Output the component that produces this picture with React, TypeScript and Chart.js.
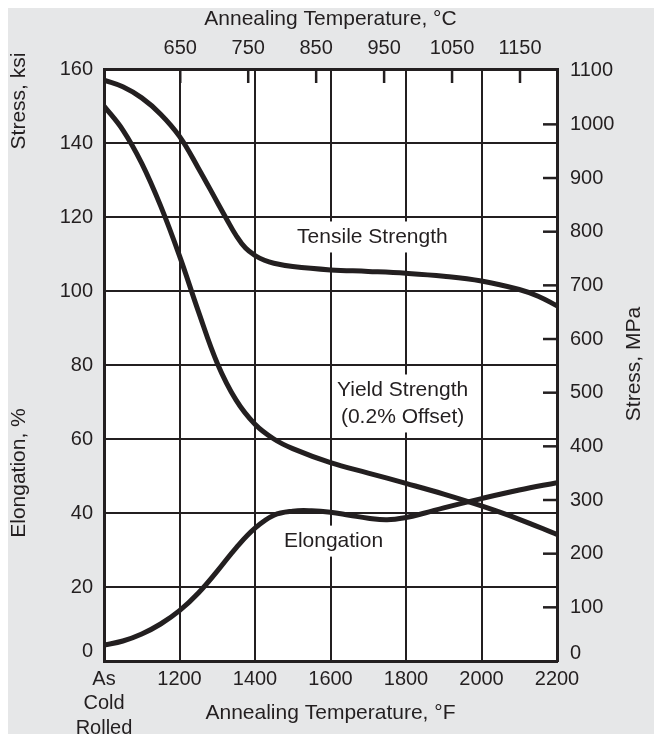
import React, { useEffect, useRef } from "react";
import { Chart, registerables } from "chart.js";

Chart.register(...registerables);

// Annealing temperature (°F) sample points and values
const tensileF = [1000, 1050, 1100, 1150, 1200, 1250, 1300, 1325, 1350, 1375, 1400, 1425, 1450, 1500, 1600, 1700, 1800, 1900, 2000, 2100, 2150, 2200];
const tensileKsi = [157, 155.2, 152.2, 147.8, 141.8, 133.2, 124, 119.4, 115, 111.6, 109.6, 108.3, 107.5, 106.6, 105.7, 105.3, 104.8, 104, 102.7, 100.4, 98.6, 96];

const yieldF = [1000, 1050, 1100, 1150, 1200, 1250, 1300, 1350, 1400, 1450, 1500, 1600, 1700, 1800, 1900, 2000, 2100, 2200];
const yieldKsi = [150, 143.5, 134.5, 123, 109.5, 94.5, 80.5, 70.5, 64, 60, 57.4, 53.6, 50.8, 48, 45.1, 41.9, 38.3, 34.2];

const elongF = [1000, 1050, 1100, 1150, 1200, 1250, 1300, 1350, 1400, 1450, 1500, 1550, 1600, 1650, 1700, 1750, 1800, 1850, 1900, 2000, 2100, 2200];
const elongPct = [4.3, 5.4, 7.3, 10, 13.6, 18.4, 24.3, 30.6, 35.9, 39.4, 40.5, 40.6, 40.2, 39.4, 38.6, 38.2, 38.8, 40, 41.4, 43.9, 46.2, 48.2];

const fTicks = [1000, 1200, 1400, 1600, 1800, 2000, 2200];
const cTicks = [650, 750, 850, 950, 1050, 1150];
const mpaTicks = [0, 100, 200, 300, 400, 500, 600, 700, 800, 900, 1000, 1100];
const ksiMin = 0;
const ksiMax = 160;
const ksiStep = 20;
const coldRolledLabel = ["As", "Cold", "Rolled"];

// annotation labels: [lines, °F, ksi]
const curveLabels: [string[], number, number][] = [
  [["Tensile Strength"], 1711, 114.6],
  [["Yield Strength", "(0.2% Offset)"], 1791, 69.6],
  [["Elongation"], 1608, 32.4],
];

const INK = "#231f20";
const FONT = "Liberation Sans";
const KSI_TO_MPA = 6.89476;
const fToC = (f: number) => (f - 32) / 1.8;

export default function App() {
  const ref = useRef<HTMLCanvasElement | null>(null);

  useEffect(() => {
    if (!ref.current) return;
    const toPts = (xs: number[], ys: number[]) => xs.map((x, i) => ({ x, y: ys[i] }));
    const ds = (label: string, data: { x: number; y: number }[]) => ({
      label,
      data,
      borderColor: INK,
      borderWidth: 5,
      pointRadius: 0,
      fill: false,
      tension: 0.4,
      borderCapStyle: "round" as const,
      borderJoinStyle: "round" as const,
      xAxisID: "x",
      yAxisID: "y",
    });

    const extras = {
      id: "extras",
      beforeDraw(chart: any) {
        const { ctx, chartArea: a } = chart;
        ctx.save();
        ctx.fillStyle = "#ffffff";
        ctx.fillRect(a.left, a.top, a.right - a.left, a.bottom - a.top);
        ctx.restore();
      },
      afterDatasetsDraw(chart: any) {
        const { ctx, chartArea: a, scales } = chart;
        ctx.save();
        // inward ticks
        ctx.strokeStyle = INK;
        ctx.lineWidth = 2.5;
        cTicks.forEach((c) => {
          const x = scales.x2.getPixelForValue(c);
          ctx.beginPath();
          ctx.moveTo(x, a.top);
          ctx.lineTo(x, a.top + 14);
          ctx.stroke();
        });
        mpaTicks.forEach((m) => {
          if (m === 0 || m === mpaTicks[mpaTicks.length - 1]) return;
          const y = scales.y2.getPixelForValue(m);
          ctx.beginPath();
          ctx.moveTo(a.right - 14, y);
          ctx.lineTo(a.right, y);
          ctx.stroke();
        });
        // curve labels with white boxes
        ctx.font = `21px "${FONT}"`;
        ctx.textAlign = "center";
        ctx.textBaseline = "middle";
        curveLabels.forEach(([lines, f, v]) => {
          const x = scales.x.getPixelForValue(f);
          const y = scales.y.getPixelForValue(v);
          const lh = 27;
          const w = Math.max(...lines.map((l) => ctx.measureText(l).width)) + 8;
          const h = lines.length * lh + 4;
          ctx.fillStyle = "#ffffff";
          ctx.fillRect(x - w / 2, y - h / 2, w, h);
          ctx.fillStyle = INK;
          lines.forEach((l, i) => {
            ctx.fillText(l, x, y - ((lines.length - 1) * lh) / 2 + i * lh);
          });
        });
        ctx.restore();
      },
      afterDraw(chart: any) {
        const { ctx, chartArea: a, scales } = chart;
        ctx.save();
        ctx.fillStyle = INK;
        // zero labels
        ctx.font = `20px "${FONT}"`;
        ctx.textBaseline = "middle";
        ctx.textAlign = "right";
        ctx.fillText(String(ksiMin), a.left - 11, scales.y.getPixelForValue(ksiMin) - 10);
        ctx.textAlign = "left";
        ctx.fillText(String(mpaTicks[0]), a.right + 13, scales.y2.getPixelForValue(mpaTicks[0]) - 8);
        // titles
        ctx.font = `21px "${FONT}"`;
        ctx.textAlign = "center";
        const cx = (a.left + a.right) / 2;
        ctx.fillText("Annealing Temperature, °C", cx, 11);
        ctx.fillText("Annealing Temperature, °F", cx, 705);
        const vert = (t: string, x: number, y: number) => {
          ctx.save();
          ctx.translate(x, y);
          ctx.rotate(-Math.PI / 2);
          ctx.fillText(t, 0, 0);
          ctx.restore();
        };
        vert("Stress, ksi", 11, 93);
        vert("Elongation, %", 11, 465);
        vert("Stress, MPa", 626, 356);
        ctx.restore();
      },
    };

    const tickFont = { family: FONT, size: 20 };
    const chart = new Chart(ref.current, {
      type: "line",
      data: {
        datasets: [
          ds("Tensile Strength", toPts(tensileF, tensileKsi)),
          ds("Yield Strength", toPts(yieldF, yieldKsi)),
          ds("Elongation", toPts(elongF, elongPct)),
        ],
      },
      options: {
        responsive: false,
        animation: false,
        devicePixelRatio: 1,
        layout: { padding: 0 },
        plugins: { legend: { display: false }, tooltip: { enabled: false } },
        scales: {
          x: {
            type: "linear",
            position: "bottom",
            min: fTicks[0],
            max: fTicks[fTicks.length - 1],
            afterBuildTicks: (s: any) => {
              s.ticks = fTicks.map((v) => ({ value: v }));
            },
            ticks: {
              autoSkip: false,
              maxRotation: 0,
              padding: 6,
              color: INK,
              font: { ...tickFont, lineHeight: 1.22 },
              callback: (v: any) => (v === fTicks[0] ? coldRolledLabel : String(v)),
            },
            grid: { color: INK, lineWidth: 2, drawTicks: false },
            border: { display: true, color: INK, width: 3 },
            afterFit: (s: any) => {
              s.height = 73;
            },
          },
          x2: {
            type: "linear",
            position: "top",
            min: fToC(fTicks[0]),
            max: fToC(fTicks[fTicks.length - 1]),
            afterBuildTicks: (s: any) => {
              s.ticks = cTicks.map((v) => ({ value: v }));
            },
            ticks: {
              autoSkip: false,
              maxRotation: 0,
              padding: 9,
              color: INK,
              font: tickFont,
              callback: (v: any) => String(v),
            },
            grid: { display: false, drawTicks: false },
            border: { display: true, color: INK, width: 3 },
            afterFit: (s: any) => {
              s.height = 61;
            },
          },
          y: {
            type: "linear",
            position: "left",
            min: ksiMin,
            max: ksiMax,
            ticks: {
              stepSize: ksiStep,
              padding: 11,
              color: INK,
              font: tickFont,
              callback: (v: any) => (v === ksiMin ? "" : String(v)),
            },
            grid: { color: INK, lineWidth: 2, drawTicks: false },
            border: { display: true, color: INK, width: 3 },
            afterFit: (s: any) => {
              s.width = 96;
            },
          },
          y2: {
            type: "linear",
            position: "right",
            min: ksiMin * KSI_TO_MPA,
            max: ksiMax * KSI_TO_MPA,
            afterBuildTicks: (s: any) => {
              s.ticks = mpaTicks.map((v) => ({ value: v }));
            },
            ticks: {
              padding: 13,
              color: INK,
              font: tickFont,
              callback: (v: any) => (v === mpaTicks[0] ? "" : String(v)),
            },
            grid: { display: false, drawTicks: false },
            border: { display: true, color: INK, width: 3 },
            afterFit: (s: any) => {
              s.width = 97;
            },
          },
        },
      },
      plugins: [extras],
    });
    return () => chart.destroy();
  }, []);

  return (
    <div style={{ position: "fixed", left: 8, top: 8, right: 0, bottom: 0, background: "#e6e7e8", overflow: "hidden" }}>
      <canvas ref={ref} width={646} height={726} style={{ display: "block", width: 646, height: 726 }} />
    </div>
  );
}
